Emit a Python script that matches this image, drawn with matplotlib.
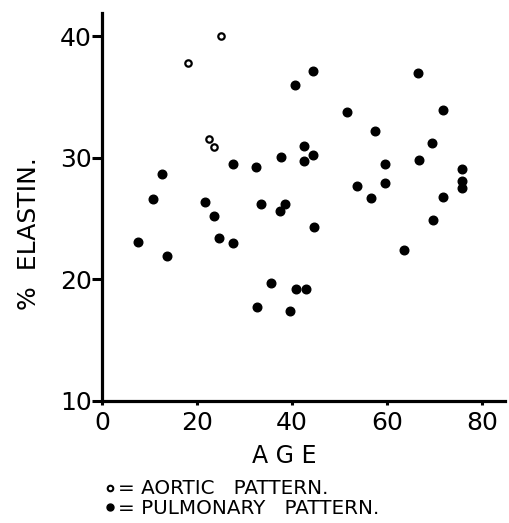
import matplotlib
matplotlib.use("Agg")
import matplotlib.pyplot as plt
from matplotlib.lines import Line2D

# Aortic pattern (open circles)
aortic_age = [18, 25, 22.5, 23.6]
aortic_elastin = [37.8, 40.0, 31.5, 30.9]

# Pulmonary pattern (filled circles)
pulm_age = [7.6, 10.7, 12.6, 13.7, 21.7, 23.6, 24.6, 27.6, 27.6, 32.5,
            33.5, 32.6, 35.6, 37.5, 37.7, 38.5, 39.6, 40.6, 40.8, 42.5,
            42.5, 42.9, 44.4, 44.4, 44.6, 51.6, 53.7, 56.6, 57.5, 59.6,
            59.6, 63.6, 66.5, 66.7, 69.5, 69.7, 71.8, 71.8, 75.8, 75.8, 75.8]
pulm_elastin = [23.1, 26.6, 28.7, 21.9, 26.4, 25.2, 23.4, 29.5, 23.0, 29.2,
                26.2, 17.7, 19.7, 25.6, 30.1, 26.2, 17.4, 36.0, 19.2, 31.0,
                29.7, 19.2, 37.1, 30.2, 24.3, 33.8, 27.7, 26.7, 32.2, 29.5,
                27.9, 22.4, 37.0, 29.8, 31.2, 24.9, 33.9, 26.8, 29.1, 28.1, 27.5]

x_ticks = [0, 20, 40, 60, 80]
y_ticks = [10, 20, 30, 40]

W, H = 509, 523
fig = plt.figure(figsize=(W / 100, H / 100), dpi=100)
ax = fig.add_axes([102 / W, 1 - 401 / H, (505 - 102) / W, (401 - 13) / H])

ax.plot(pulm_age, pulm_elastin, 'o', color='black', markersize=6.2, linestyle='none')
ax.plot(aortic_age, aortic_elastin, 'o', markerfacecolor='white', markeredgecolor='black',
        markersize=4.6, markeredgewidth=1.6, linestyle='none')

ax.set_xlim(0, 84.8)
ax.set_ylim(10, 41.9)
ax.set_xticks(x_ticks)
ax.set_yticks(y_ticks)
for s in ['top', 'right']:
    ax.spines[s].set_visible(False)
for s in ['left', 'bottom']:
    ax.spines[s].set_linewidth(2.3)
ax.tick_params(axis='y', direction='out', length=7, width=2.2, pad=0.5, labelsize=18)
ax.tick_params(axis='x', direction='out', length=3, width=2.2, pad=4, labelsize=18)

fig.text(284 / W, 1 - 456 / H, "A G E", ha='center', va='center', fontsize=17)
fig.text(29 / W, 1 - 234 / H, "%  ELASTIN.", ha='center', va='center', rotation=90, fontsize=18)

# legend
fig.add_artist(Line2D([110 / W], [1 - 488 / H], marker='o', markerfacecolor='white',
                      markeredgecolor='black', markersize=4, markeredgewidth=1.5,
                      transform=fig.transFigure, linestyle='none'))
fig.add_artist(Line2D([110 / W], [1 - 507 / H], marker='o', color='black',
                      markersize=5, transform=fig.transFigure, linestyle='none'))
fig.text(118 / W, 1 - 488 / H, "= AORTIC   PATTERN.", ha='left', va='center', fontsize=14.3)
fig.text(118 / W, 1 - 508 / H, "= PULMONARY   PATTERN.", ha='left', va='center', fontsize=14.3)

fig.savefig("out.png", dpi=100, facecolor='white')
